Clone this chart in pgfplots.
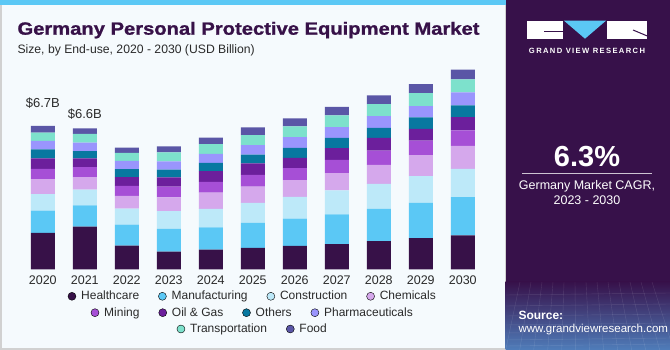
\documentclass[border=0pt]{standalone}
\usepackage{fontspec}
\setmainfont{Liberation Sans}
\newfontfamily\titlefont{Liberation Sans}[FakeStretch=1.14, BoldFeatures={FakeBold=1.2}]
\usepackage{pgfplots}
\usepackage{pgfplotstable}
\pgfplotsset{compat=1.18}
\definecolor{hc}{HTML}{371148}
\definecolor{mf}{HTML}{5BC8F5}
\definecolor{co}{HTML}{BDE9F9}
\definecolor{ch}{HTML}{D5A8EC}
\definecolor{mi}{HTML}{A64FD6}
\definecolor{og}{HTML}{6C1F9C}
\definecolor{ot}{HTML}{0878A0}
\definecolor{ph}{HTML}{9A95FD}
\definecolor{tr}{HTML}{7DE1CC}
\definecolor{fo}{HTML}{5A56A6}
\definecolor{panel}{HTML}{37114A}
\definecolor{bgc}{HTML}{F5FAFD}
\definecolor{strip}{HTML}{5BC8F5}
\definecolor{txt}{HTML}{2A2A2A}
\definecolor{panelblue}{HTML}{4F7DBA}

\pgfplotstableread{
x H M C Ch Mi O Ot P T F
0 1.70 1.04 0.78 0.69 0.48 0.50 0.42 0.39 0.39 0.31
1 1.99 1.00 0.73 0.59 0.47 0.41 0.34 0.39 0.41 0.26
2 1.11 0.98 0.75 0.59 0.47 0.41 0.37 0.39 0.37 0.25
3 0.83 1.06 0.83 0.64 0.50 0.44 0.36 0.39 0.42 0.28
4 0.92 1.04 0.86 0.76 0.51 0.50 0.39 0.42 0.45 0.31
5 1.00 1.17 0.94 0.75 0.56 0.53 0.41 0.44 0.47 0.36
6 1.09 1.28 1.01 0.79 0.56 0.48 0.47 0.50 0.50 0.37
7 1.18 1.39 1.12 0.81 0.61 0.56 0.47 0.51 0.55 0.39
8 1.32 1.50 1.17 0.89 0.67 0.59 0.47 0.55 0.56 0.41
9 1.46 1.65 1.25 0.98 0.67 0.56 0.53 0.53 0.61 0.42
10 1.59 1.78 1.32 1.08 0.72 0.62 0.55 0.61 0.61 0.45
}\datatable

\pgfplotsset{
  legax/.style={
    at={(21.8pt,80.7pt)}, anchor=south west, scale only axis,
    width=462pt, height=213.9pt, xmin=0, xmax=1, ymin=0, ymax=1,
    hide axis, legend columns=-1,
    legend image code/.code={\fill[##1] (0pt,0pt) circle (4pt);},
    legend style={draw=none, fill=none, anchor=center,
      font=\fontsize{12}{13}\selectfont\color{txt},
      /tikz/every odd column/.append style={column sep=3pt},
      /tikz/every even column/.append style={column sep=17pt}},
  }
}

\begin{document}
\begin{tikzpicture}[x=1pt,y=1pt]
% backgrounds
\fill[bgc] (0,0) rectangle (505.7,350);
\draw[black!18, line width=1.5pt] (0.75,0.75) rectangle (505.7,349.25);
\fill[strip] (0,345) rectangle (505.7,350);
\fill[panel] (505.7,0) rectangle (670,350);
\shade[top color=panel, bottom color=panelblue] (505.7,0) rectangle (670,68);
\begin{scope}
\clip (505.7,0) rectangle (670,68);
\foreach \i in {0,...,12} {\draw[white, opacity=0.12, line width=0.4pt] (505.7+\i*14,0) -- (520+\i*11,68);}
\foreach \j in {4,10,17,25,34,44,55} {\draw[white, opacity=0.12, line width=0.4pt] (505.7,\j) -- (670,\j+2);}
\end{scope}

% title
\node[anchor=base west, inner sep=0, text=hc, font=\titlefont\fontsize{17.7}{20}\selectfont\bfseries] at (17.3,315.3) {Germany Personal Protective Equipment Market};
\node[anchor=base west, inner sep=0, text=txt, font=\fontsize{12.2}{14}\selectfont] at (17.3,296.7) {Size, by End-use, 2020 - 2030 (USD Billion)};

% right panel
\fill[white] (526.7,311.3) rectangle (562.7,329.3);
\draw[panel, line width=1pt] (544,318) -- (562.7,318);
\fill[mf] (564,329.3) -- (606,329.3) -- (585,311.3) -- cycle;
\fill[white] (607.3,311.3) rectangle (647.3,329.3);
\draw[panel, line width=1pt] (633,320) -- (647.3,314);
\node[text=white, font=\fontsize{7.6}{9}\selectfont\bfseries\addfontfeatures{LetterSpace=18}] at (587,299.3) {GRAND VIEW RESEARCH};
\node[text=white, font=\fontsize{29}{32}\selectfont\bfseries] at (587,193.3) {6.3\%};
\draw[white!75!panel, line width=1pt] (522,176.7) -- (652,176.7);
\node[text=white, font=\fontsize{12.5}{14}\selectfont, align=center] at (587,157) {Germany Market CAGR,\\[1pt]2023 - 2030};
\node[anchor=base west, inner sep=0, text=white, font=\fontsize{12}{14}\selectfont\bfseries] at (518.3,30.5) {Source:};
\node[anchor=base west, inner sep=0, text=white, font=\fontsize{11.5}{14}\selectfont] at (518.3,17.5) {www.grandviewresearch.com};

\begin{axis}[
  at={(21.8pt,80.7pt)}, anchor=south west, scale only axis,
  width=462pt, height=213.9pt,
  xmin=-0.5, xmax=10.5, ymin=0, ymax=10,
  ybar stacked, bar width=24pt,
  hide y axis,
  axis x line*=bottom, x axis line style={draw=none},
  major tick length=0pt,
  xtick={0,...,10},
  xticklabels={2020,2021,2022,2023,2024,2025,2026,2027,2028,2029,2030},
  xticklabel style={font=\fontsize{12.5}{14}\selectfont, text=txt, yshift=-3pt},
  clip=false,
  every axis plot/.append style={draw=none},
]
\addplot[fill=hc] table[x=x,y=H]{\datatable};
\addplot[fill=mf] table[x=x,y=M]{\datatable};
\addplot[fill=co] table[x=x,y=C]{\datatable};
\addplot[fill=ch] table[x=x,y=Ch]{\datatable};
\addplot[fill=mi] table[x=x,y=Mi]{\datatable};
\addplot[fill=og] table[x=x,y=O]{\datatable};
\addplot[fill=ot] table[x=x,y=Ot]{\datatable};
\addplot[fill=ph] table[x=x,y=P]{\datatable};
\addplot[fill=tr] table[x=x,y=T]{\datatable};
\addplot[fill=fo] table[x=x,y=F]{\datatable};
\node[text=txt, font=\fontsize{13}{15}\selectfont] at (axis cs:0,7.75) {\$6.7B};
\node[text=txt, font=\fontsize{13}{15}\selectfont] at (axis cs:1,7.27) {\$6.6B};
\end{axis}

\begin{axis}[legax, legend style={at={(0.5,-0.1262)}}]
\addlegendimage{fill=hc}\addlegendentry{Healthcare}
\addlegendimage{fill=mf}\addlegendentry{Manufacturing}
\addlegendimage{fill=co}\addlegendentry{Construction}
\addlegendimage{fill=ch}\addlegendentry{Chemicals}
\end{axis}
\begin{axis}[legax, legend style={at={(0.5,-0.2029)}}]
\addlegendimage{fill=mi}\addlegendentry{Mining}
\addlegendimage{fill=og}\addlegendentry{Oil \& Gas}
\addlegendimage{fill=ot}\addlegendentry{Others}
\addlegendimage{fill=ph}\addlegendentry{Pharmaceuticals}
\end{axis}
\begin{axis}[legax, legend style={at={(0.5,-0.2791)}}]
\addlegendimage{fill=tr}\addlegendentry{Transportation}
\addlegendimage{fill=fo}\addlegendentry{Food}
\end{axis}
\end{tikzpicture}
\end{document}
